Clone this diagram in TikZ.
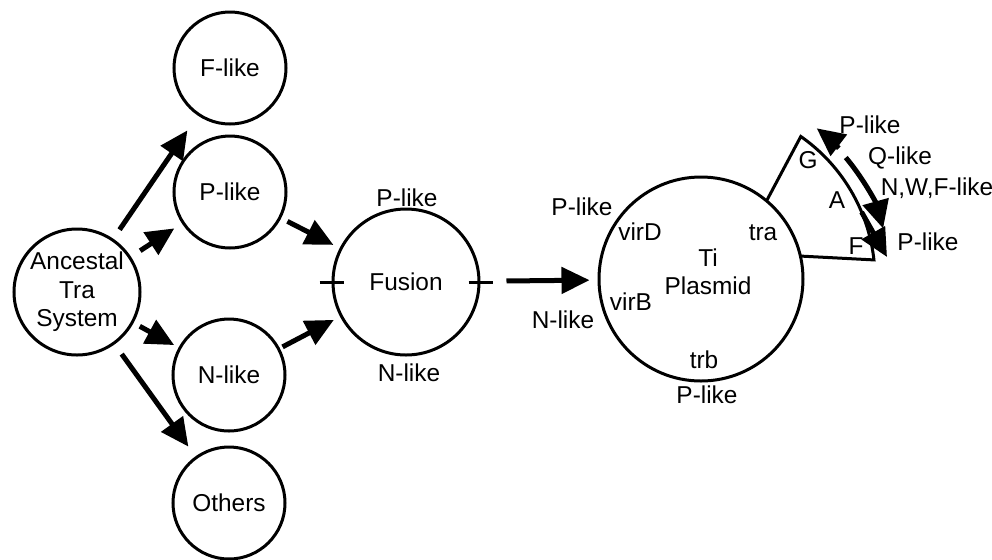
\documentclass[tikz,border=0pt]{standalone}
\usepackage{fontspec}
\setmainfont{Liberation Sans}
\usetikzlibrary{arrows.meta}

\begin{document}
\begin{tikzpicture}[x=0.5pt, y=-0.5pt, >={Triangle[length=14pt, width=13pt]},
	main node/.style={circle, draw, line width=1.5pt, inner sep=0pt, minimum size=56pt, align=center, font=\fontsize{12.2}{14.25}\selectfont},
	tag/.style={inner sep=0pt, align=center, font=\fontsize{12.2}{14.25}\selectfont},
	link/.style={->, line width=2.5pt}]
	\useasboundingbox (0,0) rectangle (992,559);
	% the tree of transfer systems
	\node[main node, minimum size=63pt] (anc) at (77,292) {Ancestal\\Tra\\System};
	\node[main node] (flike) at (230,68) {F-like};
	\node[main node] (plike) at (230,192) {P-like};
	\node[main node] (nlike) at (229,375) {N-like};
	\node[main node] (others) at (229,503) {Others};
	\node[main node, minimum size=73pt] (fus) at (406,282) {Fusion};
	\node[main node, minimum size=102pt] (ti) at (701,279) {};
	\draw[link, shorten <=5.5pt, shorten >=9pt] (anc) -- (flike);
	\draw[link, shorten <=5.5pt, shorten >=4.5pt] (anc) -- (plike);
	\draw[link, shorten <=3.5pt, shorten >=2.5pt] (anc) -- (nlike);
	\draw[link, shorten <=6pt, shorten >=6pt] (anc) -- (others);
	\draw[link, shorten <=3.5pt, shorten >=3.5pt] (plike) -- (fus);
	\draw[link, shorten <=1.5pt, shorten >=3.5pt] (nlike) -- (fus);
	\draw[link, shorten <=13pt, shorten >=4pt] (fus) -- (ti);
	% fusion
	\node[tag] (fusp) at (407,198) {P-like};
	\node[tag] (fusn) at (409,373) {N-like};
	\draw[line width=1.5pt] ([xshift=-6pt]fus.west) -- ([xshift=6pt]fus.west);
	\draw[line width=1.5pt] ([xshift=-6pt]fus.east) -- ([xshift=6pt]fus.east);
	% Ti plasmid
	\node[tag] (tiname) at (708,272) {Ti\\Plasmid};
	\node[tag] (virdp) at (582,207) {P-like};
	\node[tag] (vird) at (640,232) {virD};
	\node[tag] (virb) at (631,302) {virB};
	\node[tag] (virbn) at (563,320) {N-like};
	\node[tag] (trb) at (704,360) {trb};
	\node[tag] (trbp) at (707,395) {P-like};
	\node[tag] (tra) at (763,233) {tra};
	% tra region
	\draw[line width=1.5pt] ([shift={(-50:102)}]ti.center) -- ([shift={(-55:174)}]ti.center)
		arc[start angle=-55, end angle=-6.3, radius=174] -- ([shift={(-13:102)}]ti.center);
	\node[tag] (trag) at (808,160) {G};
	\node[tag] (traa) at (837,200) {A};
	\node[tag] (traf) at (856,246) {F};
	\coordinate (up1) at ([shift={(-43.5:190)}]ti.center);
	\coordinate (dn1) at ([shift={(-40:189)}]ti.center);
	\coordinate (pl1) at ([shift={(-22.6:174)}]ti.center);
	\coordinate (pl2) at (887,257);
	\draw[link] (up1) arc[start angle=-43.5, end angle=-52.5, radius=190];
	\draw[link] (dn1) arc[start angle=-40, end angle=-15.5, radius=189];
	\draw[link] (pl1) -- (pl2);
	\node[tag] (upp) at (870,125) {P-like};
	\node[tag] (q) at (900,158) {Q-like};
	\node[tag] (nwf) at (937,188) {N,W,F-like};
	\node[tag] (dnp) at (928,242) {P-like};
\end{tikzpicture}
\end{document}
